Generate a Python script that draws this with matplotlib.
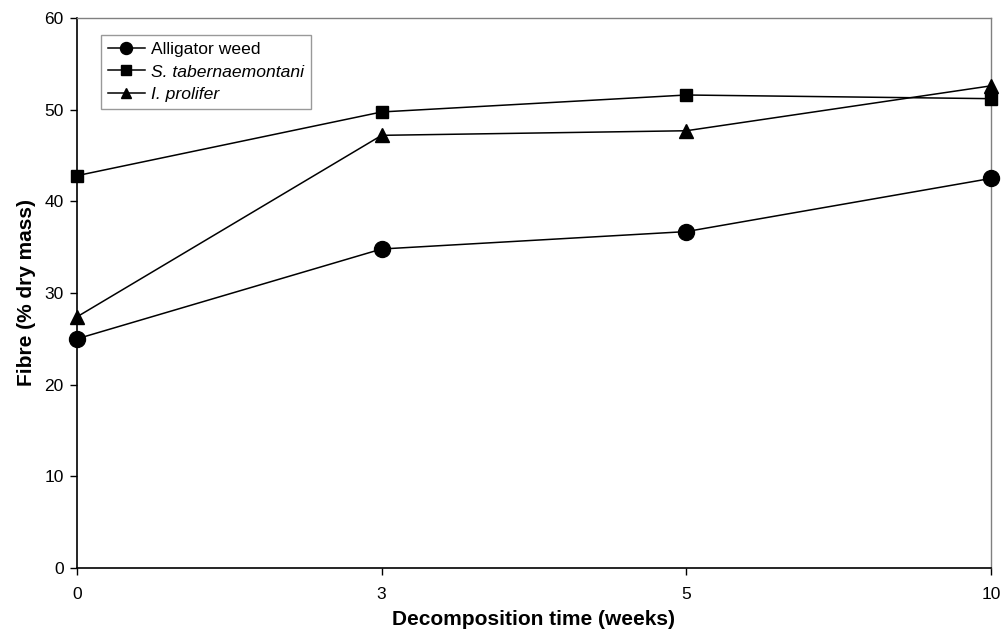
import matplotlib
matplotlib.use("Agg")
import matplotlib.pyplot as plt

plt.rcParams['font.family'] = ['Liberation Sans', 'DejaVu Sans']

weeks = ["0", "3", "5", "10"]
alligator = [25.0, 34.8, 36.7, 42.5]
s_tab = [42.8, 49.75, 51.6, 51.2]
i_prol = [27.4, 47.2, 47.7, 52.6]

fig = plt.figure(figsize=(10.04, 6.38), dpi=100)
ax = fig.add_axes([77 / 1004, 1 - 568 / 638, 914 / 1004, 550 / 638])

x = list(range(len(weeks)))
ax.plot(x, alligator, color='black', lw=1.1, marker='o', ms=11.5, label='Alligator weed', clip_on=False, zorder=3)
ax.plot(x, s_tab, color='black', lw=1.1, marker='s', ms=9, label='S. tabernaemontani', clip_on=False, zorder=3)
ax.plot(x, i_prol, color='black', lw=1.1, marker='^', ms=9.5, label='I. prolifer', clip_on=False, zorder=3)

ax.set_xlim(0, len(weeks) - 1)
ax.set_ylim(0, 60)
ax.set_xticks(x)
ax.set_xticklabels(weeks)
ax.set_yticks(range(0, 61, 10))
ax.tick_params(axis='both', direction='out', length=5, width=1, labelsize=12.5)
ax.tick_params(axis='y', pad=4.5)
ax.tick_params(axis='x', pad=8.5)

for s in ['top', 'right']:
    ax.spines[s].set_color('#808080')
    ax.spines[s].set_linewidth(1)
for s in ['left', 'bottom']:
    ax.spines[s].set_color('black')
    ax.spines[s].set_linewidth(1.2)

ax.set_xlabel('Decomposition time (weeks)', fontsize=15, fontweight='bold', labelpad=6)
ax.set_ylabel('Fibre (% dry mass)', fontsize=15, fontweight='bold', labelpad=6)

leg = ax.legend(loc='upper left', bbox_to_anchor=(0.026, 0.969), fontsize=12.6, frameon=True,
                fancybox=False, edgecolor='#808080', handlelength=2.1, handletextpad=0.35,
                borderpad=0.4, labelspacing=0.4, markerscale=0.75, borderaxespad=0)
leg.get_frame().set_linewidth(1)
texts = leg.get_texts()
texts[1].set_fontstyle('italic')
texts[2].set_fontstyle('italic')

fig.savefig('out.png', dpi=100)
